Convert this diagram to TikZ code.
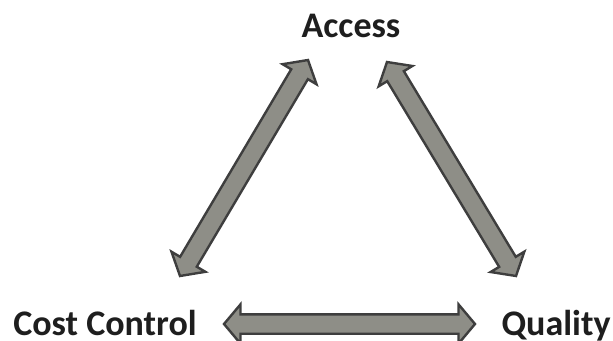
\documentclass[tikz,border=0pt]{standalone}
\usepackage{fontspec}
\setmainfont{Carlito}
\usetikzlibrary{shapes.arrows,calc}
\definecolor{arrfill}{HTML}{8E8E87}
\definecolor{arrline}{HTML}{3E3E3E}
\definecolor{txt}{HTML}{1E1E1E}
\tikzset{
  label text/.style={font=\fontsize{36}{42}\selectfont\bfseries, text=txt, anchor=base, inner sep=0pt},
  arrowbox/.style={double arrow, draw=arrline, fill=arrfill, line width=2.4pt,
    inner xsep=0pt, inner ysep=8.5pt, outer sep=0pt,
    double arrow head extend=10pt, double arrow tip angle=100, minimum width=0pt}
}
\newcommand\dblarrow[2]{%
  \path let \p1=($(#2)-(#1)$), \n1={atan2(\y1,\x1)}, \n2={veclen(\x1,\y1)} in
    node[arrowbox, minimum height=\n2, rotate=\n1] at ($(#1)!0.5!(#2)$) {};
}
\begin{document}
\begin{tikzpicture}[x=1pt,y=-1pt]
\useasboundingbox (0,0) rectangle (613,340);
\node[label text] (access) at (351,37) {Access};
\node[label text] (cost) at (105,335) {Cost Control};
\node[label text] (quality) at (556,335) {Quality};
\coordinate (l1) at (180,276);
\coordinate (l2) at (308,60);
\coordinate (r1) at (387,62);
\coordinate (r2) at (516,276);
\coordinate (b1) at (224,324);
\coordinate (b2) at (475,324);
\dblarrow{l1}{l2}
\dblarrow{r1}{r2}
\dblarrow{b1}{b2}
\end{tikzpicture}
\end{document}
